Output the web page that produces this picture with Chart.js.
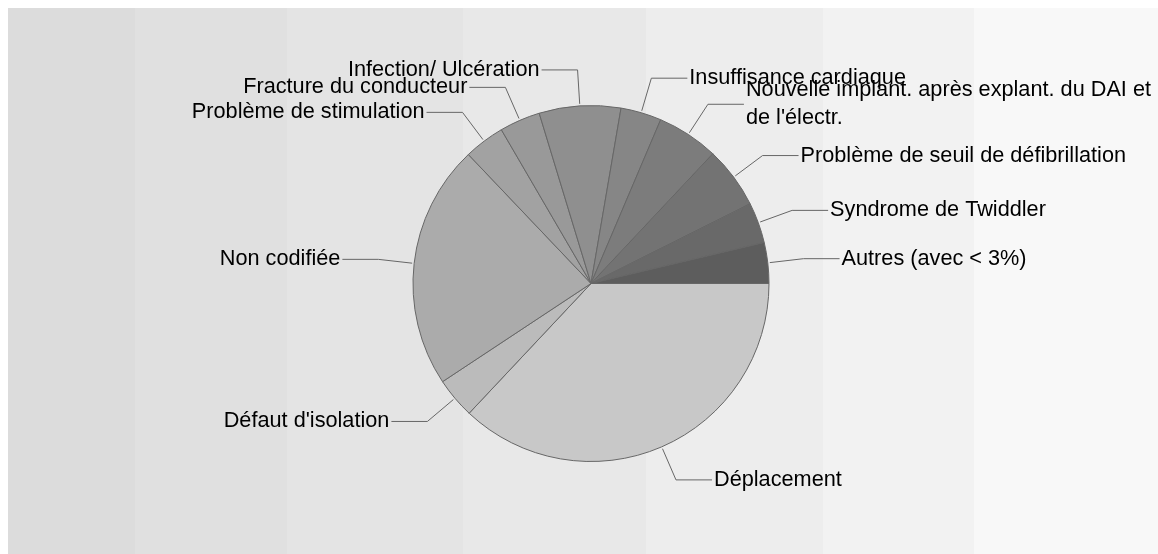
<!DOCTYPE html>
<html>
<head>
<meta charset="utf-8">
<script src="https://cdn.jsdelivr.net/npm/chart.js@4"></script>
<style>
  html, body { margin: 0; padding: 0; background: #fff; }
  #wrap { position: relative; width: 1158px; height: 554px; }
  #bands {
    position: absolute; left: 8px; top: 8px; right: 0; bottom: 0;
    background: linear-gradient(to right,
      #dcdcdc 0px, #dcdcdc 127px,
      #e0e0e0 127px, #e0e0e0 279px,
      #e4e4e4 279px, #e4e4e4 455px,
      #e8e8e8 455px, #e8e8e8 638px,
      #ededed 638px, #ededed 815px,
      #f2f2f2 815px, #f2f2f2 966px,
      #f8f8f8 966px);
  }
  canvas { position: absolute; left: 0; top: 0; }
</style>
</head>
<body>
<div id="wrap">
  <div id="bands"></div>
  <canvas id="chart" width="1158" height="554"></canvas>
</div>
<script>
// clockwise from 3 o'clock
const categories = [
  "Déplacement",
  "Défaut d'isolation",
  "Non codifiée",
  "Problème de stimulation",
  "Fracture du conducteur",
  "Infection/ Ulcération",
  "Insuffisance cardiaque",
  ["Nouvelle implant. après explant. du DAI et", "de l'électr."],
  "Problème de seuil de défibrillation",
  "Syndrome de Twiddler",
  "Autres (avec < 3%)"
];
const values = [37.0, 3.7, 22.2, 3.7, 3.7, 7.4, 3.7, 5.6, 5.6, 3.7, 3.7];
const sliceColors = ["#c8c8c8", "#bbbbbb", "#ababab", "#a2a2a2", "#999999", "#8f8f8f",
                     "#868686", "#7c7c7c", "#737373", "#696969", "#5d5d5d"];

// ==== LABELS WITH CONNECTORS ====
const outsideLabels = {
  id: "outsideLabels",
  afterDatasetsDraw(chart) {
    const ctx = chart.ctx;
    const arcs = chart.getDatasetMeta(0).data;
    ctx.save();
    ctx.font = "21.7px 'Liberation Sans', Arial, sans-serif";
    ctx.textBaseline = "middle";
    arcs.forEach((arc, i) => {
      const { x, y, startAngle, endAngle, outerRadius } = arc.getProps(["x", "y", "startAngle", "endAngle", "outerRadius"], true);
      const mid = (startAngle + endAngle) / 2;
      const cos = Math.cos(mid), sin = Math.sin(mid);
      const right = cos >= 0;
      const x0 = x + cos * (outerRadius + 2), y0 = y + sin * (outerRadius + 2);
      const x1 = x + cos * (outerRadius + 36), y1 = y + sin * (outerRadius + 36);
      const x2 = x1 + (right ? 36 : -36);

      ctx.strokeStyle = "#666";
      ctx.lineWidth = 1;
      ctx.beginPath();
      ctx.moveTo(x0, y0);
      ctx.lineTo(x1, y1);
      ctx.lineTo(x2, y1);
      ctx.stroke();

      const lines = [].concat(chart.data.labels[i]);
      const lh = 28;
      ctx.fillStyle = "#000";
      ctx.textAlign = right ? "left" : "right";
      lines.forEach((t, k) => {
        const ty = y1 + (k - (lines.length - 1) / 2) * lh;
        ctx.fillText(t, x2 + (right ? 2 : -2), ty);
      });
    });
    ctx.restore();
  }
};

new Chart(document.getElementById("chart"), {
  type: "pie",
  data: {
    labels: categories,
    datasets: [{
      data: values,
      backgroundColor: sliceColors,
      borderColor: "#666",
      borderWidth: 1
    }]
  },
  options: {
    responsive: false,
    animation: false,
    rotation: 90,
    layout: { padding: { left: 24, right: 0, top: 105, bottom: 92 } },
    plugins: {
      legend: { display: false },
      tooltip: { enabled: false }
    }
  },
  plugins: [outsideLabels]
});
</script>
</body>
</html>
